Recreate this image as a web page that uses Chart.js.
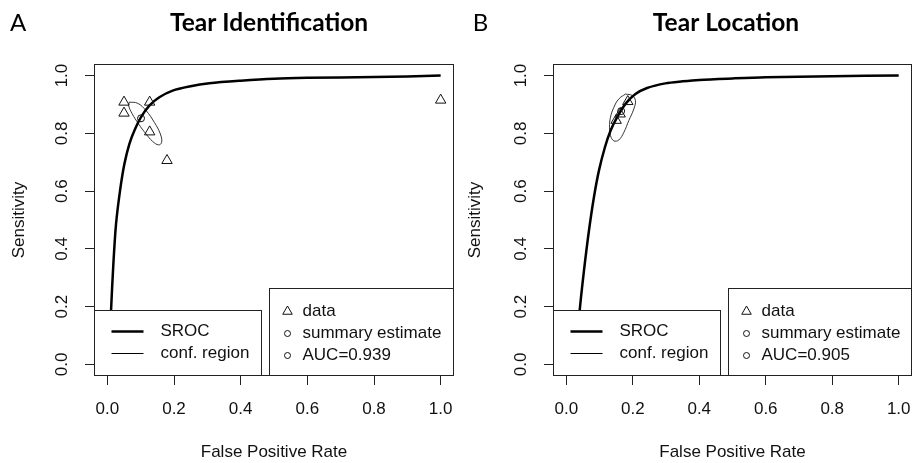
<!DOCTYPE html>
<html>
<head>
<meta charset="utf-8">
<script src="https://cdn.jsdelivr.net/npm/chart.js@4.4.1/dist/chart.umd.min.js"></script>
<style>
  html, body { margin:0; padding:0; background:#fff; overflow:hidden; }
  #wrap { position:relative; width:912px; height:463px; overflow:hidden; }
  canvas { position:absolute; top:0; }
  #cA { left:0; }
  #cB { left:456px; }
</style>
</head>
<body>
<div id="wrap">
  <canvas id="cA" width="456" height="463"></canvas>
  <canvas id="cB" width="456" height="463"></canvas>
</div>
<script>
// ---------- data ----------
const tickValues = [0, 0.2, 0.4, 0.6, 0.8, 1.0];

// Panel A: Tear Identification
const idSrocFpr  = [0.009, 0.011, 0.018, 0.026, 0.038, 0.051, 0.066, 0.081, 0.101, 0.126, 0.156, 0.196, 0.246, 0.306, 0.4, 0.5, 0.6, 0.8, 0.9, 1.0];
const idSrocSens = [0.12, 0.184, 0.346, 0.485, 0.601, 0.693, 0.763, 0.809, 0.856, 0.896, 0.925, 0.948, 0.962, 0.973, 0.982, 0.989, 0.992, 0.995, 0.997, 1.0];
const idEllipseFpr  = [0.066, 0.091, 0.116, 0.141, 0.159, 0.163, 0.154, 0.136, 0.116, 0.094, 0.074, 0.064, 0.066];
const idEllipseSens = [0.908, 0.904, 0.879, 0.838, 0.798, 0.769, 0.760, 0.772, 0.798, 0.832, 0.869, 0.896, 0.908];
const idDataFpr  = [0.05, 0.05, 0.127, 0.127, 0.179, 1.0];
const idDataSens = [0.908, 0.870, 0.908, 0.805, 0.706, 0.915];
const idSummaryFpr  = [0.101];
const idSummarySens = [0.852];
const idAUC = 'AUC=0.939';

// Panel B: Tear Location
const locSrocFpr  = [0.036, 0.040, 0.053, 0.068, 0.083, 0.098, 0.116, 0.133, 0.153, 0.178, 0.208, 0.243, 0.298, 0.35, 0.4, 0.5, 0.6, 0.8, 1.0];
const locSrocSens = [0.12, 0.184, 0.323, 0.462, 0.578, 0.670, 0.751, 0.809, 0.856, 0.902, 0.936, 0.957, 0.973, 0.980, 0.985, 0.990, 0.994, 0.998, 1.0];
const locEllipseFpr  = [0.178, 0.198, 0.208, 0.203, 0.188, 0.173, 0.158, 0.143, 0.133, 0.130, 0.133, 0.143, 0.158, 0.178];
const locEllipseSens = [0.936, 0.931, 0.913, 0.884, 0.844, 0.803, 0.777, 0.774, 0.792, 0.821, 0.856, 0.890, 0.919, 0.936];
const locDataFpr  = [0.185, 0.162, 0.150];
const locDataSens = [0.910, 0.867, 0.845];
const locSummaryFpr  = [0.165];
const locSummarySens = [0.877];
const locAUC = 'AUC=0.905';

// ---------- helpers ----------
const RFONT = "'Liberation Sans', Arial, sans-serif";
const TFONT = "Lato, 'Open Sans', sans-serif";
function pts(xs, ys) { return xs.map((x, i) => ({x: x, y: ys[i]})); }

function drawTri(ctx, x, y, r) {
  ctx.beginPath();
  ctx.moveTo(x, y - r);
  ctx.lineTo(x + r * 0.866, y + r * 0.5);
  ctx.lineTo(x - r * 0.866, y + r * 0.5);
  ctx.closePath();
  ctx.stroke();
}

const panelPlugin = {
  id: 'panel',
  afterDatasetsDraw(chart, args, opts) {
    const ctx = chart.ctx;
    const a = chart.chartArea;
    const L = Math.round(a.left) + 0.5, R = Math.round(a.right) - 0.5;
    const T = Math.round(a.top) + 0.5, B = Math.round(a.bottom) - 0.5;
    ctx.save();
    ctx.lineWidth = 1;
    ctx.strokeStyle = '#222';
    ctx.strokeRect(L, T, R - L, B - T);

    // left legend (lines)
    const l1L = L, l1R = L + 167, l1T = B - 65;
    ctx.fillStyle = '#fff';
    ctx.fillRect(l1L, l1T, l1R - l1L, B - l1T);
    ctx.strokeRect(l1L, l1T, l1R - l1L, B - l1T);
    ctx.strokeStyle = '#000';
    ctx.lineWidth = 2.5;
    ctx.beginPath(); ctx.moveTo(l1L + 17, B - 44); ctx.lineTo(l1L + 49, B - 44); ctx.stroke();
    ctx.lineWidth = 1;
    ctx.beginPath(); ctx.moveTo(l1L + 17, B - 22); ctx.lineTo(l1L + 49, B - 22); ctx.stroke();
    ctx.fillStyle = '#111';
    ctx.font = '17px ' + RFONT;
    ctx.textBaseline = 'middle';
    ctx.textAlign = 'left';
    ctx.fillText('SROC', l1L + 66, B - 44);
    ctx.fillText('conf. region', l1L + 66, B - 22);

    // right legend (symbols)
    const l2L = L + 175, l2R = R, l2T = B - 87;
    ctx.strokeStyle = '#222';
    ctx.fillStyle = '#fff';
    ctx.fillRect(l2L, l2T, l2R - l2L, B - l2T);
    ctx.strokeRect(l2L, l2T, l2R - l2L, B - l2T);
    ctx.strokeStyle = '#111';
    ctx.lineWidth = 1;
    const sx = l2L + 18, tx = l2L + 33;
    drawTri(ctx, sx, B - 64, 5.5);
    ctx.beginPath(); ctx.arc(sx, B - 42, 3, 0, Math.PI * 2); ctx.stroke();
    ctx.beginPath(); ctx.arc(sx, B - 20, 3, 0, Math.PI * 2); ctx.stroke();
    ctx.fillStyle = '#111';
    ctx.fillText('data', tx, B - 64);
    ctx.fillText('summary estimate', tx, B - 42);
    ctx.fillText(opts.auc, tx, B - 20);

    // titles
    ctx.fillStyle = '#000';
    ctx.textBaseline = 'alphabetic';
    ctx.font = 'bold 24.5px ' + TFONT;
    ctx.textAlign = 'center';
    ctx.fillText(opts.title, opts.titleX, 30.5);
    ctx.font = '24px ' + TFONT;
    ctx.textAlign = 'left';
    ctx.fillText(opts.letter, opts.letterX, 30.5);
    ctx.restore();
  }
};

function makeChart(id, cfg) {
  const axisFont = {family: RFONT, size: 17};
  return new Chart(document.getElementById(id), {
    type: 'scatter',
    data: {
      datasets: [
        { data: pts(cfg.srocX, cfg.srocY), showLine: true, borderColor: '#000', borderWidth: 2.5,
          pointRadius: 0, tension: 0.3, order: 1 },
        { data: pts(cfg.ellX, cfg.ellY), showLine: true, borderColor: '#333', borderWidth: 1,
          pointRadius: 0, tension: 0.4, order: 2 },
        { data: pts(cfg.dataX, cfg.dataY), showLine: false, pointStyle: 'triangle', pointRadius: 6,
          borderColor: '#111', borderWidth: 1, backgroundColor: 'rgba(0,0,0,0)', order: 0 },
        { data: pts(cfg.sumX, cfg.sumY), showLine: false, pointStyle: 'circle', pointRadius: 3.5,
          borderColor: '#111', borderWidth: 1, backgroundColor: 'rgba(0,0,0,0)', order: 0 }
      ]
    },
    options: {
      responsive: false,
      animation: false,
      devicePixelRatio: 1,
      layout: { autoPadding: false, padding: { top: 64, right: cfg.padRight, bottom: 0, left: 0 } },
      plugins: {
        legend: { display: false },
        tooltip: { enabled: false },
        panel: { title: cfg.title, titleX: cfg.titleX, letter: cfg.letter, letterX: cfg.letterX, auc: cfg.auc }
      },
      scales: {
        x: {
          type: 'linear', min: -0.04, max: 1.04,
          afterBuildTicks: s => { s.ticks = tickValues.map(v => ({value: v})); },
          afterFit: s => { s.height = 87; s.paddingLeft = 0; s.paddingRight = 0; },
          ticks: { font: axisFont, color: '#111', padding: 14, autoSkip: false, maxRotation: 0,
                   callback: v => Number(v).toFixed(1) },
          grid: { drawOnChartArea: false, drawTicks: true, tickLength: 9, color: '#222', lineWidth: 1 },
          border: { display: false },
          title: { display: true, text: 'False Positive Rate', font: axisFont, color: '#111',
                   padding: { top: 0, bottom: 0 } }
        },
        y: {
          type: 'linear', min: -0.04, max: 1.04,
          afterBuildTicks: s => { s.ticks = tickValues.map(v => ({value: v})); },
          afterFit: s => { s.width = cfg.yWidth; s.paddingTop = 0; s.paddingBottom = 0; },
          ticks: { font: axisFont, color: '#111', padding: 11, autoSkip: false,
                   minRotation: 90, maxRotation: 90, crossAlign: 'center',
                   callback: v => Number(v).toFixed(1) },
          grid: { drawOnChartArea: false, drawTicks: true, tickLength: 9, color: '#222', lineWidth: 1 },
          border: { display: false },
          title: { display: true, text: 'Sensitivity', font: axisFont, color: '#111',
                   padding: { top: 9, bottom: 0 } }
        }
      }
    },
    plugins: [panelPlugin]
  });
}

makeChart('cA', {
  srocX: idSrocFpr, srocY: idSrocSens, ellX: idEllipseFpr, ellY: idEllipseSens,
  dataX: idDataFpr, dataY: idDataSens, sumX: idSummaryFpr, sumY: idSummarySens,
  title: 'Tear Identification', titleX: 269, letter: 'A', letterX: 10, auc: idAUC,
  yWidth: 94, padRight: 2
});
makeChart('cB', {
  srocX: locSrocFpr, srocY: locSrocSens, ellX: locEllipseFpr, ellY: locEllipseSens,
  dataX: locDataFpr, dataY: locDataSens, sumX: locSummaryFpr, sumY: locSummarySens,
  title: 'Tear Location', titleX: 270, letter: 'B', letterX: 16.7, auc: locAUC,
  yWidth: 97, padRight: 0
});
</script>
</body>
</html>
